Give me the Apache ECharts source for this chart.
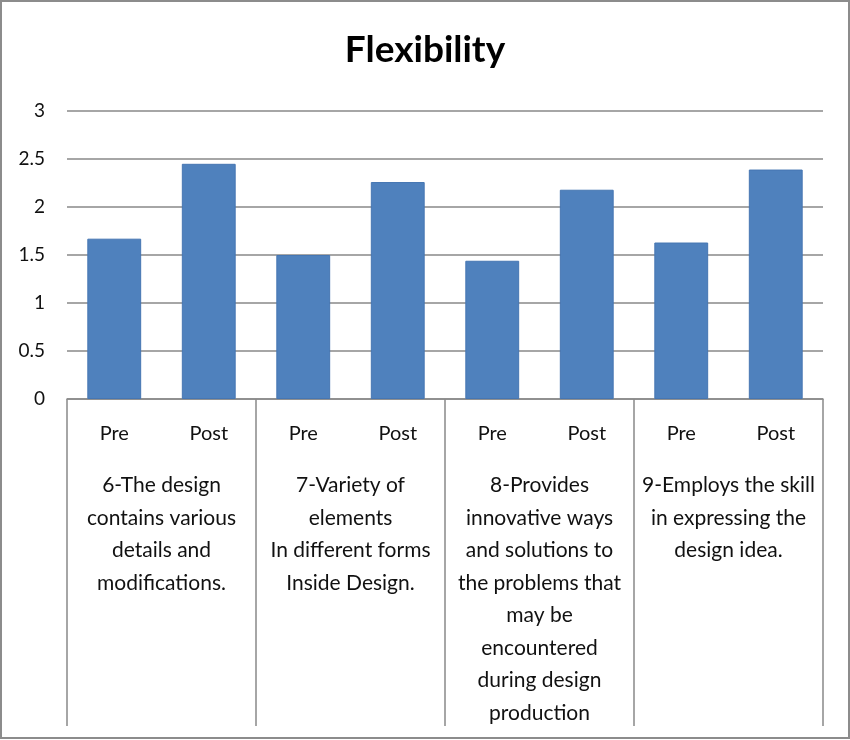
<!DOCTYPE html>
<html>
<head>
<meta charset="utf-8">
<title>Flexibility</title>
<script src="https://cdn.jsdelivr.net/npm/echarts@6/dist/echarts.min.js"></script>
<style>
  html, body { margin: 0; padding: 0; background: #fff; }
  #chart { width: 850px; height: 740px; }
</style>
</head>
<body>
<div id="chart"></div>
<script>
// item groups shown under the axis
const groups = [
    '6-The design\ncontains various\ndetails and\nmodifications.',
    '7-Variety of\nelements\nIn different forms\nInside Design.',
    '8-Provides\ninnovative ways\nand solutions to\nthe problems that\nmay be\nencountered\nduring design\nproduction',
    '9-Employs the skill\nin expressing the\ndesign idea.'
]
const phases = ['Pre', 'Post']
const preValues = [1.67, 1.50, 1.44, 1.63]
const postValues = [2.45, 2.26, 2.18, 2.39]
const yTicks = [0, 0.5, 1, 1.5, 2, 2.5, 3]

// one bar per (group, phase)
let phaseLabels = []
let barValues = []
groups.forEach((g, i) => {
    phaseLabels.push(phases[0], phases[1])
    barValues.push(preValues[i], postValues[i])
})

const font = 'Lato, "Open Sans", sans-serif'
const gray = '#898989'

let option = {
    animation: false,
    title: {
        text: 'Flexibility',
        left: 'center',
        top: 27,
        textStyle: { fontFamily: font, fontSize: 37, fontWeight: 'bold', color: '#000' }
    },
    grid: { left: 67, right: 27, top: 111, bottom: 341 },
    xAxis: [
        {
            type: 'category',
            data: phaseLabels,
            position: 'bottom',
            axisLine: { show: true, lineStyle: { color: gray, width: 1.5 } },
            axisTick: { show: false },
            axisLabel: {
                interval: 0,
                margin: 25,
                fontFamily: font,
                fontSize: 20,
                color: '#111'
            }
        },
        {
            type: 'category',
            data: groups,
            position: 'bottom',
            axisLine: { show: false },
            axisTick: { show: true, length: 327, lineStyle: { color: gray, width: 1.5 } },
            axisLabel: {
                interval: 0,
                margin: 70,
                fontFamily: font,
                fontSize: 21,
                lineHeight: 32.5,
                color: '#111',
                align: 'center'
            }
        }
    ],
    yAxis: {
        type: 'value',
        min: yTicks[0],
        max: yTicks[yTicks.length - 1],
        interval: 0.5,
        axisLine: { show: false },
        axisTick: { show: false },
        splitLine: { lineStyle: { color: gray, width: 1.5 } },
        axisLabel: { margin: 22, fontFamily: font, fontSize: 19, color: '#111' }
    },
    series: [
        {
            type: 'bar',
            xAxisIndex: 0,
            data: barValues,
            barWidth: '57%',
            itemStyle: { color: '#4F81BD', borderColor: '#4676B2', borderWidth: 1 }
        }
    ],
    graphic: [
        {
            type: 'rect',
            shape: { x: 1, y: 1, width: 848, height: 737 },
            style: { fill: 'none', stroke: '#8c8c8c', lineWidth: 2 },
            silent: true
        }
    ]
}

let charts = echarts.init(document.getElementById('chart'))
charts.setOption(option)
</script>
</body>
</html>
